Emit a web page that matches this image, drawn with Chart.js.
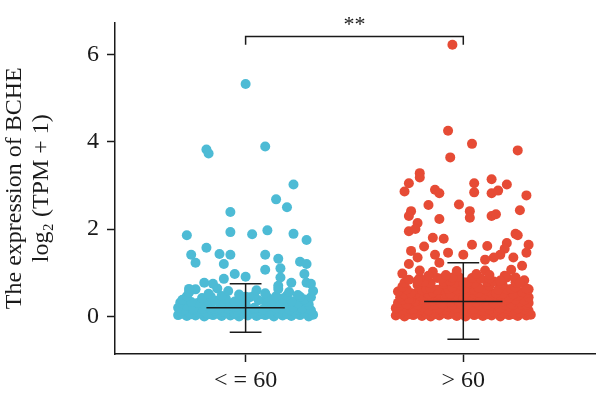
<!DOCTYPE html>
<html>
<head>
<meta charset="utf-8">
<script src="https://cdn.jsdelivr.net/npm/chart.js@4.4.1/dist/chart.umd.min.js"></script>
<style>
  html, body { margin: 0; padding: 0; background: #fff; }
  #wrap { width: 600px; height: 394px; }
</style>
</head>
<body>
<div id="wrap"><canvas id="stripChart"></canvas></div>
<script>
// groups on the x axis
const groupLabels = ['< = 60', '> 60'];
const yTicks = [0, 2, 4, 6];

// mean and mean ± sd per group
const groupMeans = [0.20, 0.34];
const groupUpper = [0.75, 1.23];
const groupLower = [-0.36, -0.52];
const signifText = '**';

// points: [jitter offset from group centre, log2(TPM + 1)]
const blueDots = [
  [-0.31,0.03],[-0.27,0.01],[-0.23,0.02],[-0.19,0.00],[-0.15,0.03],[-0.11,0.01],[-0.07,0.02],[-0.03,0.00],
  [0.01,0.02],[0.05,0.01],[0.09,0.03],[0.13,0.00],[0.17,0.02],[0.21,0.01],[0.25,0.03],[0.29,0.00],[0.31,0.04],
  [-0.29,0.06],[-0.25,0.05],[-0.21,0.07],[-0.17,0.05],[-0.13,0.06],[-0.09,0.07],[-0.05,0.05],[-0.01,0.06],
  [0.03,0.07],[0.07,0.05],[0.11,0.06],[0.15,0.07],[0.19,0.05],[0.23,0.06],[0.27,0.07],
  [-0.30,0.12],[-0.26,0.09],[-0.22,0.11],[-0.18,0.08],[-0.14,0.13],[-0.10,0.10],[-0.05,0.08],[-0.01,0.12],
  [0.03,0.09],[0.07,0.13],[0.11,0.10],[0.15,0.08],[0.19,0.12],[0.23,0.09],[0.27,0.11],[0.30,0.14],
  [-0.28,0.16],[-0.24,0.15],[-0.20,0.17],[-0.16,0.16],[-0.12,0.15],[-0.08,0.18],[-0.04,0.16],[0.00,0.15],
  [0.04,0.17],[0.08,0.16],[0.12,0.15],[0.16,0.17],[0.20,0.16],[0.24,0.15],[0.28,0.18],
  [-0.31,0.20],[-0.27,0.24],[-0.24,0.19],[-0.19,0.27],[-0.16,0.21],[-0.12,0.18],[-0.07,0.25],[-0.04,0.22],
  [0.00,0.28],[0.04,0.20],[0.10,0.23],[0.14,0.19],[0.18,0.26],[0.22,0.21],[0.26,0.18],[0.29,0.27],
  [-0.30,0.32],[-0.22,0.31],[-0.17,0.33],[-0.11,0.30],[-0.02,0.32],[0.09,0.34],[0.15,0.31],[0.24,0.30],[0.28,0.33],
  [-0.29,0.38],[-0.25,0.33],[-0.20,0.42],[-0.14,0.36],[-0.09,0.40],[-0.05,0.34],[0.02,0.44],[0.06,0.37],
  [0.12,0.32],[0.17,0.41],[0.21,0.35],[0.27,0.39],[0.30,0.44],
  [-0.27,0.46],[-0.16,0.45],[-0.11,0.47],[0.00,0.45],[0.04,0.48],[0.10,0.44],[0.14,0.46],[0.19,0.48],[0.25,0.45],
  [-0.26,0.55],[-0.23,0.62],[-0.17,0.52],[-0.13,0.64],[-0.08,0.58],[-0.03,0.50],[0.05,0.60],[0.09,0.53],
  [0.15,0.63],[0.20,0.56],[0.24,0.49],[0.31,0.58],
  [0.00,5.32],[-0.18,3.82],[-0.17,3.73],[0.09,3.89],[0.22,3.02],[0.14,2.68],[0.19,2.50],[-0.07,2.39],
  [-0.27,1.86],[-0.07,1.93],[0.03,1.88],[0.10,1.97],[0.22,1.89],[0.28,1.75],[-0.18,1.57],[-0.25,1.41],
  [-0.23,1.23],[-0.12,1.43],[-0.07,1.41],[-0.10,1.20],[0.09,1.41],[0.15,1.32],[0.09,1.07],[0.16,1.10],
  [-0.05,0.97],[0.00,0.91],[-0.10,0.86],[0.25,1.25],[0.28,1.20],[0.27,0.97],[0.28,0.77],[0.30,0.75],
  [0.21,0.77],[0.15,0.70],[0.16,0.89],[-0.19,0.77],[-0.15,0.75],[-0.26,0.63]
];

const redDots = [
  [-0.31,0.02],[-0.27,0.00],[-0.23,0.03],[-0.19,0.01],[-0.15,0.00],[-0.11,0.02],[-0.07,0.04],[-0.03,0.01],
  [0.01,0.00],[0.05,0.03],[0.09,0.01],[0.13,0.02],[0.17,0.00],[0.21,0.03],[0.25,0.01],[0.29,0.02],[0.31,0.04],
  [-0.29,0.06],[-0.25,0.05],[-0.21,0.07],[-0.17,0.06],[-0.13,0.05],[-0.09,0.07],[-0.05,0.06],[-0.01,0.05],
  [0.03,0.07],[0.07,0.06],[0.11,0.05],[0.15,0.07],[0.19,0.06],[0.23,0.05],[0.27,0.07],
  [-0.30,0.10],[-0.26,0.13],[-0.22,0.08],[-0.18,0.12],[-0.14,0.09],[-0.10,0.14],[-0.06,0.10],[-0.02,0.08],
  [0.02,0.12],[0.06,0.09],[0.10,0.13],[0.14,0.10],[0.18,0.08],[0.22,0.12],[0.26,0.09],[0.30,0.13],
  [-0.28,0.15],[-0.24,0.16],[-0.20,0.15],[-0.16,0.14],[-0.12,0.16],[-0.08,0.15],[-0.04,0.17],[0.00,0.15],
  [0.04,0.16],[0.08,0.14],[0.12,0.16],[0.16,0.15],[0.20,0.17],[0.24,0.15],[0.28,0.16],
  [-0.31,0.19],[-0.27,0.23],[-0.23,0.17],[-0.19,0.21],[-0.15,0.25],[-0.11,0.18],[-0.07,0.22],[-0.03,0.20],
  [0.01,0.24],[0.05,0.17],[0.09,0.21],[0.13,0.25],[0.17,0.19],[0.21,0.23],[0.25,0.18],[0.29,0.22],
  [-0.29,0.26],[-0.25,0.27],[-0.21,0.26],[-0.17,0.28],[-0.13,0.26],[-0.09,0.27],[-0.05,0.26],[-0.01,0.28],
  [0.03,0.26],[0.07,0.27],[0.11,0.26],[0.15,0.28],[0.19,0.27],[0.23,0.26],[0.27,0.27],[0.29,0.26],
  [-0.30,0.31],[-0.26,0.28],[-0.22,0.34],[-0.18,0.30],[-0.14,0.36],[-0.10,0.29],[-0.06,0.33],[-0.02,0.35],
  [0.02,0.28],[0.06,0.32],[0.10,0.36],[0.14,0.30],[0.18,0.34],[0.22,0.29],[0.26,0.33],[0.30,0.31],
  [-0.28,0.38],[-0.24,0.39],[-0.18,0.37],[-0.12,0.39],[-0.06,0.38],[0.00,0.37],[0.04,0.39],[0.08,0.38],
  [0.14,0.37],[0.20,0.39],[0.24,0.38],[0.28,0.37],
  [-0.29,0.44],[-0.25,0.40],[-0.20,0.47],[-0.16,0.42],[-0.12,0.49],[-0.08,0.41],[-0.04,0.46],[0.00,0.43],
  [0.04,0.48],[0.08,0.40],[0.12,0.45],[0.16,0.50],[0.21,0.42],[0.25,0.47],[0.30,0.44],
  [-0.27,0.51],[-0.22,0.52],[-0.16,0.51],[-0.12,0.53],[-0.08,0.52],[-0.04,0.51],[0.01,0.53],[0.05,0.52],
  [0.09,0.51],[0.13,0.53],[0.18,0.52],[0.23,0.51],[0.29,0.53],
  [-0.30,0.57],[-0.24,0.53],[-0.19,0.60],[-0.14,0.55],[-0.10,0.62],[-0.06,0.52],[-0.02,0.58],[0.03,0.61],
  [0.07,0.54],[0.11,0.59],[0.15,0.53],[0.20,0.62],[0.27,0.56],
  [-0.26,0.62],[-0.17,0.63],[-0.12,0.61],[-0.07,0.63],[-0.03,0.62],[0.01,0.64],[0.05,0.62],[0.10,0.63],
  [0.16,0.61],[0.22,0.63],[0.30,0.62],
  [-0.28,0.68],[-0.21,0.72],[-0.15,0.65],[-0.09,0.74],[-0.05,0.67],[-0.01,0.71],[0.03,0.75],[0.07,0.66],
  [0.12,0.70],[0.18,0.73],[0.24,0.67],[0.29,0.64],
  [-0.27,0.77],[-0.21,0.78],[-0.15,0.76],[-0.09,0.79],[-0.04,0.77],[0.00,0.78],[0.05,0.76],[0.11,0.79],
  [0.17,0.77],[0.24,0.78],
  [-0.25,0.84],[-0.18,0.79],[-0.12,0.88],[-0.06,0.81],[-0.02,0.90],[0.02,0.78],[0.08,0.86],[0.14,0.80],
  [0.20,0.89],[0.28,0.83],
  [-0.20,0.88],[-0.10,0.87],[-0.05,0.89],[0.04,0.88],[0.12,0.87],[0.24,0.89],
  [-0.14,1.02],[-0.08,0.95],[-0.03,1.04],[0.06,0.97],[0.10,1.05],[0.19,0.93],
  [-0.05,6.22],[-0.07,4.25],[0.04,3.95],[-0.06,3.64],[0.25,3.80],[-0.20,3.28],[-0.20,3.18],[-0.25,3.05],
  [-0.27,2.86],[-0.13,2.90],[-0.11,2.82],[0.05,3.05],[0.05,2.84],[0.13,3.14],[0.20,3.02],[0.13,2.82],
  [0.16,2.88],[0.29,2.77],[-0.16,2.55],[-0.02,2.56],[0.03,2.41],[0.03,2.26],[-0.24,2.41],[-0.25,2.30],
  [-0.21,2.14],[-0.25,1.95],[-0.22,2.00],[-0.11,2.23],[0.13,2.30],[0.15,2.34],[0.26,2.43],[-0.14,1.80],
  [-0.09,1.78],[-0.18,1.60],[-0.24,1.50],[0.04,1.64],[0.11,1.61],[0.24,1.89],[0.25,1.86],[0.20,1.68],
  [0.30,1.64],[0.29,1.46],[0.19,1.55],[0.17,1.41],[0.23,1.35],[-0.07,1.46],[-0.13,1.41],[-0.11,1.23],
  [0.00,1.41],[-0.21,1.35],[-0.25,1.20],[-0.28,0.98],[-0.20,1.05],[0.12,0.95],[0.22,1.07],[0.27,1.16],
  [0.14,1.35],[0.10,1.30],[-0.16,0.93],[-0.21,0.82],[0.17,0.82],[0.26,0.77]
];

const blueColor = '#4DBBD5';
const redColor = '#E64B35';
const inkColor = '#1a1a1a';
const serif = "'Liberation Serif', 'DejaVu Serif', serif";

function toPoints(dots, centre) {
  return dots.map(d => ({ x: centre + d[0], y: d[1] }));
}

// mean line, sd whisker and the significance bracket
const errorBarPlugin = {
  id: 'errorBars',
  afterDatasetsDraw(chart) {
    const ctx = chart.ctx;
    const xs = chart.scales.x;
    const ys = chart.scales.y;
    ctx.save();
    ctx.strokeStyle = inkColor;
    ctx.lineWidth = 1.5;
    const line = (x0, y0, x1, y1) => {
      ctx.beginPath();
      ctx.moveTo(xs.getPixelForValue(x0), ys.getPixelForValue(y0));
      ctx.lineTo(xs.getPixelForValue(x1), ys.getPixelForValue(y1));
      ctx.stroke();
    };
    groupMeans.forEach((m, i) => {
      line(i - 0.18, m, i + 0.18, m);
      line(i, groupLower[i], i, groupUpper[i]);
      line(i - 0.073, groupUpper[i], i + 0.073, groupUpper[i]);
      line(i - 0.073, groupLower[i], i + 0.073, groupLower[i]);
    });
    // bracket
    const bx0 = xs.getPixelForValue(0), bx1 = xs.getPixelForValue(1);
    const by = ys.getPixelForValue(6.41), byEnd = ys.getPixelForValue(6.22);
    ctx.beginPath();
    ctx.moveTo(bx0, byEnd);
    ctx.lineTo(bx0, by);
    ctx.lineTo(bx1, by);
    ctx.lineTo(bx1, byEnd);
    ctx.stroke();
    ctx.fillStyle = inkColor;
    ctx.font = '22px ' + serif;
    ctx.textAlign = 'center';
    ctx.textBaseline = 'middle';
    ctx.fillText(signifText, (bx0 + bx1) / 2, by - 11);
    ctx.restore();
  }
};

new Chart(document.getElementById('stripChart').getContext('2d'), {
  type: 'scatter',
  data: {
    datasets: [{
      label: groupLabels[0],
      data: toPoints(blueDots, 0),
      backgroundColor: blueColor,
      borderWidth: 0,
      pointRadius: 5,
      pointHoverRadius: 5
    }, {
      label: groupLabels[1],
      data: toPoints(redDots, 1),
      backgroundColor: redColor,
      borderWidth: 0,
      pointRadius: 5,
      pointHoverRadius: 5
    }]
  },
  options: {
    responsive: true,
    maintainAspectRatio: false,
    animation: false,
    layout: { padding: { top: 20, right: 0, left: 0, bottom: 0 } },
    plugins: { legend: { display: false }, tooltip: { enabled: false } },
    scales: {
      x: {
        type: 'linear',
        min: -0.6,
        max: 1.605,
        afterBuildTicks: scale => { scale.ticks = groupLabels.map((l, i) => ({ value: i })); },
        afterFit: scale => { scale.height = 40; },
        ticks: {
          callback: v => groupLabels[v],
          color: inkColor,
          padding: 4,
          font: { family: serif, size: 24 }
        },
        grid: { drawOnChartArea: false, color: inkColor, tickLength: 8, tickWidth: 1.5 },
        border: { color: inkColor, width: 1.5 }
      },
      y: {
        min: -0.86,
        max: 6.73,
        afterBuildTicks: scale => { scale.ticks = yTicks.map(v => ({ value: v })); },
        afterFit: scale => { scale.width = 115; },
        ticks: {
          color: inkColor,
          padding: 8,
          font: { family: serif, size: 24 }
        },
        grid: { drawOnChartArea: false, color: inkColor, tickLength: 8, tickWidth: 1.5 },
        border: { color: inkColor, width: 1.5 },
        title: {
          display: true,
          text: ['The expression of BCHE', 'log\u2082 (TPM + 1)'],
          color: inkColor,
          font: { family: serif, size: 24, lineHeight: 1.12 },
          padding: { top: 1, bottom: 0 }
        }
      }
    }
  },
  plugins: [errorBarPlugin]
});
</script>
</body>
</html>
